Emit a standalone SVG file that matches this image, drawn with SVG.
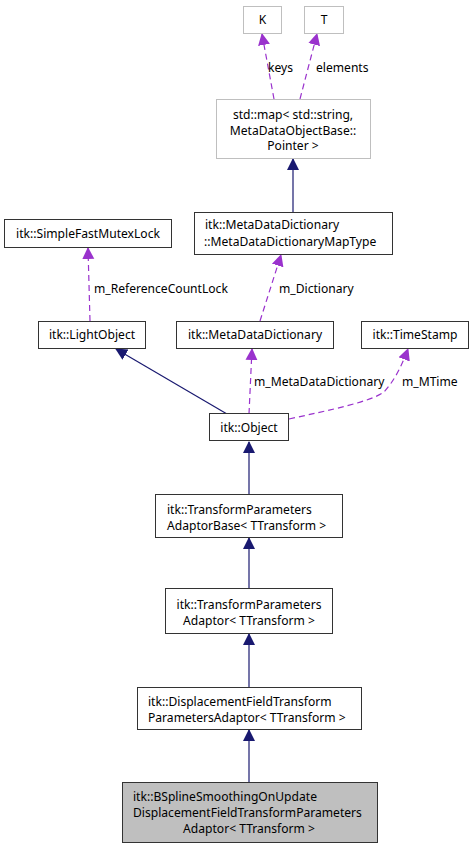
<svg xmlns="http://www.w3.org/2000/svg" width="473" height="848" viewBox="0 0 473 848">
<defs>
<style>
text{font-family:"Noto Sans","DejaVu Sans",sans-serif;font-size:12.1px;fill:#000}
.n{fill:#fff;stroke:#333;stroke-width:1}
.g{fill:#fff;stroke:#bfbfbf;stroke-width:1}
.h{fill:#bfbfbf;stroke:#333;stroke-width:1}
.inh{fill:none;stroke:#191970;stroke-width:1.2}
.use{fill:none;stroke:#9a32cd;stroke-width:1.2;stroke-dasharray:6,4}
.c{text-anchor:middle}
</style>
<marker id="ai" markerWidth="12" markerHeight="14" viewBox="0 0 12 14" refX="11" refY="7" orient="auto" markerUnits="userSpaceOnUse"><path d="M0,1 L12,7 L0,13 Z" fill="#191970"/></marker>
<marker id="au" markerWidth="12" markerHeight="14" viewBox="0 0 12 14" refX="11" refY="7" orient="auto" markerUnits="userSpaceOnUse"><path d="M0,1 L12,7 L0,13 Z" fill="#9a32cd"/></marker>
</defs>
<rect width="473" height="848" fill="#fff"/>
<g id="connectors">
<path class="use" d="M274,99 L262,34" marker-end="url(#au)"/>
<path class="use" d="M300,99 L317,34" marker-end="url(#au)"/>
<path class="inh" d="M293,212 L293,159" marker-end="url(#ai)"/>
<path class="use" d="M90,321 L88,248" marker-end="url(#au)"/>
<path class="use" d="M260,321 L281,255" marker-end="url(#au)"/>
<path class="inh" d="M227,414 L116,349" marker-end="url(#ai)"/>
<path class="use" d="M249,414 L252,349" marker-end="url(#au)"/>
<path class="use" d="M289,419 C330,410 370,402 384,392 C395,380 402,365 408,349" marker-end="url(#au)"/>
<path class="inh" d="M249,494 L249,442" marker-end="url(#ai)"/>
<path class="inh" d="M249,588 L249,538" marker-end="url(#ai)"/>
<path class="inh" d="M249,687 L249,634" marker-end="url(#ai)"/>
<path class="inh" d="M249,782 L249,730" marker-end="url(#ai)"/>
<text x="268" y="71.5">keys</text>
<text x="316" y="71.5">elements</text>
<text x="94" y="292.5">m_ReferenceCountLock</text>
<text x="279" y="292.5">m_Dictionary</text>
<text x="254" y="385.5">m_MetaDataDictionary</text>
<text x="402" y="385.5">m_MTime</text>
</g>
<g id="K"><rect class="g" x="243.5" y="6.5" width="38" height="27"/><text class="c" x="262.5" y="24">K</text></g>
<g id="T"><rect class="g" x="304.5" y="6.5" width="39" height="27"/><text class="c" x="324" y="24">T</text></g>
<g id="stdmap"><rect class="g" x="216.5" y="99.5" width="154" height="59"/>
<text class="c" x="293" y="119">std::map&lt; std::string,</text>
<text class="c" x="293" y="134.5">MetaDataObjectBase::</text>
<text class="c" x="293" y="150">Pointer &gt;</text></g>
<g id="MapType"><rect class="n" x="194.5" y="212.5" width="198" height="42"/>
<text x="205" y="228.5">itk::MetaDataDictionary</text>
<text x="204" y="245.5">::MetaDataDictionaryMapType</text></g>
<g id="Mutex"><rect class="n" x="4.5" y="219.5" width="167" height="28"/><text class="c" x="88" y="237.5">itk::SimpleFastMutexLock</text></g>
<g id="LightObject"><rect class="n" x="38.5" y="321.5" width="107" height="27"/><text class="c" x="92" y="338.5">itk::LightObject</text></g>
<g id="MDD"><rect class="n" x="176.5" y="321.5" width="157" height="27"/><text class="c" x="255" y="338.5">itk::MetaDataDictionary</text></g>
<g id="TimeStamp"><rect class="n" x="361.5" y="321.5" width="107" height="27"/><text class="c" x="415" y="338.5">itk::TimeStamp</text></g>
<g id="Object"><rect class="n" x="209.5" y="413.5" width="79" height="27"/><text class="c" x="249" y="432">itk::Object</text></g>
<g id="TPAB"><rect class="n" x="155.5" y="494.5" width="187" height="43"/>
<text x="167" y="513.5">itk::TransformParameters</text>
<text x="167" y="529.5">AdaptorBase&lt; TTransform &gt;</text></g>
<g id="TPA"><rect class="n" x="165.5" y="588.5" width="167" height="45"/>
<text class="c" x="249" y="608.5">itk::TransformParameters</text>
<text class="c" x="249" y="624.5">Adaptor&lt; TTransform &gt;</text></g>
<g id="DFTPA"><rect class="n" x="137.5" y="687.5" width="224" height="42"/>
<text x="148" y="706">itk::DisplacementFieldTransform</text>
<text x="148" y="722">ParametersAdaptor&lt; TTransform &gt;</text></g>
<g id="BSpline"><rect class="h" x="122.5" y="782.5" width="255" height="60"/>
<text x="133" y="800.5">itk::BSplineSmoothingOnUpdate</text>
<text x="133" y="816.5">DisplacementFieldTransformParameters</text>
<text class="c" x="249" y="832.5">Adaptor&lt; TTransform &gt;</text></g>
</svg>
